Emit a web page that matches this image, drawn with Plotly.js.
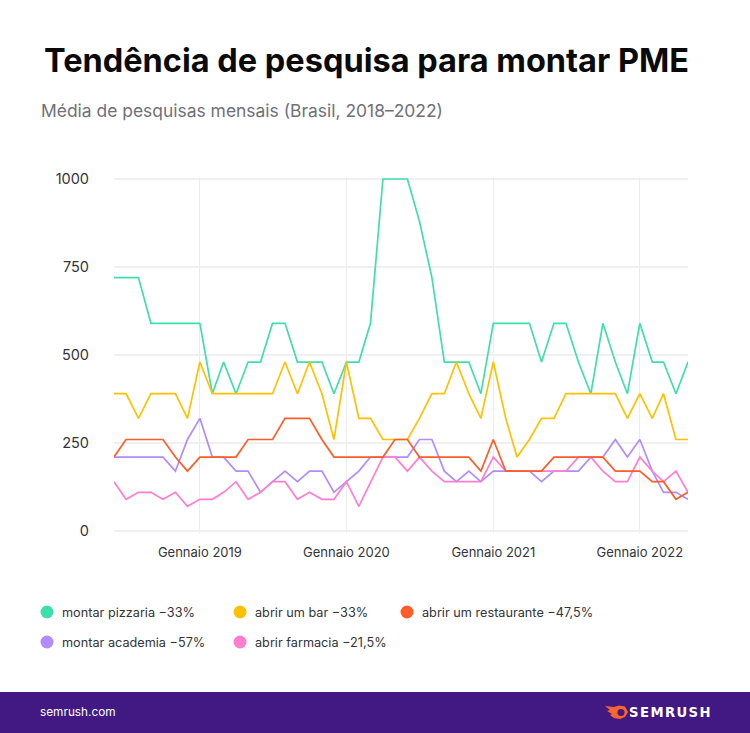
<!DOCTYPE html>
<html><head><meta charset="utf-8">
<script src="https://cdn.plot.ly/plotly-3.0.1.min.js"></script>
<style>html,body{margin:0;padding:0;background:#fff;overflow:hidden}#c{width:750px;height:733px}
.annotation[data-index="3"] text{letter-spacing:1.4px}</style>
</head><body><div id="c"></div>
<script>
const months=["2018-06-01","2018-07-01","2018-08-01","2018-09-01","2018-10-01","2018-11-01","2018-12-01",
"2019-01-01","2019-02-01","2019-03-01","2019-04-01","2019-05-01","2019-06-01","2019-07-01","2019-08-01","2019-09-01","2019-10-01","2019-11-01","2019-12-01",
"2020-01-01","2020-02-01","2020-03-01","2020-04-01","2020-05-01","2020-06-01","2020-07-01","2020-08-01","2020-09-01","2020-10-01","2020-11-01","2020-12-01",
"2021-01-01","2021-02-01","2021-03-01","2021-04-01","2021-05-01","2021-06-01","2021-07-01","2021-08-01","2021-09-01","2021-10-01","2021-11-01","2021-12-01",
"2022-01-01","2022-02-01","2022-03-01","2022-04-01","2022-05-01"];
const pizzaria=[720,720,720,590,590,590,590,590,390,480,390,480,480,590,590,480,480,480,390,480,480,590,1000,1000,1000,880,720,480,480,480,390,590,590,590,590,480,590,590,480,390,590,480,390,590,480,480,390,480];
const bar=[390,390,320,390,390,390,320,480,390,390,390,390,390,390,480,390,480,390,260,480,320,320,260,260,260,320,390,390,480,390,320,480,320,210,260,320,320,390,390,390,390,390,320,390,320,390,260,260];
const restaurante=[210,260,260,260,260,210,170,210,210,210,210,260,260,260,320,320,320,260,210,210,210,210,210,260,260,210,210,210,210,210,170,260,170,170,170,170,210,210,210,210,210,170,170,170,140,140,90,110];
const academia=[210,210,210,210,210,170,260,320,210,210,170,170,110,140,170,140,170,170,110,140,170,210,210,210,210,260,260,170,140,170,140,170,170,170,170,140,170,170,170,210,210,260,210,260,170,110,110,90];
const farmacia=[140,90,110,110,90,110,70,90,90,110,140,90,110,140,140,90,110,90,90,140,70,140,210,210,170,210,170,140,140,140,140,210,170,170,170,170,170,170,210,210,170,140,140,210,170,140,170,110];
const yTicks=[0,250,500,750,1000];
const xTicks=["2019-01-01","2020-01-01","2021-01-01","2022-01-01"];
const xTickLabels=["Gennaio 2019","Gennaio 2020","Gennaio 2021","Gennaio 2022"];
const titleText="Tendência de pesquisa para montar PME";
const subtitleText="Média de pesquisas mensais (Brasil, 2018–2022)";
const legendItems=[
 {name:"montar pizzaria −33%",color:"#3fdfa9",cx:47,cy:612},
 {name:"abrir um bar −33%",color:"#ffc000",cx:240,cy:612},
 {name:"abrir um restaurante −47,5%",color:"#ff5c28",cx:407,cy:612},
 {name:"montar academia −57%",color:"#b18cff",cx:47,cy:642},
 {name:"abrir farmacia −21,5%",color:"#ff7ed0",cx:240,cy:642}];
const FONT="Inter, sans-serif";
const PL=114,PR=688,PT=177,PB=533;
const X=p=>(p-PL)/(PR-PL), Y=p=>(PB-p)/(PB-PT);
function line(name,y,color){return {type:"scatter",mode:"lines",name:name,x:months,y:y,
  line:{color:color,width:1.7,shape:"linear"},cliponaxis:false,hoverinfo:"x+y"};}
const traces=[line("montar pizzaria",pizzaria,"#3fdfa9"),line("abrir um bar",bar,"#ffc000"),
 line("montar academia",academia,"#b18cff"),line("abrir farmacia",farmacia,"#ff7ed0"),
 line("abrir um restaurante",restaurante,"#ff5c28")];
function txt(text,px,py,size,color,family){return {text:text,xref:"paper",yref:"paper",x:X(px),y:Y(py),
  xanchor:"left",yanchor:"middle",showarrow:false,font:{family:family||FONT,size:size,color:color}};}
const annotations=[
 txt("<b>"+titleText+"</b>",42,60.5,32.5,"#0a0a0a"),
 txt(subtitleText,39,110,17.45,"#6f7079"),
 txt("semrush.com",38,712,11.8,"#ffffff"),
 txt("<b>SEMRUSH</b>",632,712,13.2,"#ffffff","DejaVu Sans")
];
const shapes=[{type:"rect",xref:"paper",yref:"paper",x0:X(0),x1:X(750),y0:Y(692),y1:Y(733),fillcolor:"#421983",line:{width:0},layer:"below"}];
for(const it of legendItems){
 shapes.push({type:"circle",xref:"paper",yref:"paper",x0:X(it.cx-6.5),x1:X(it.cx+6.5),y0:Y(it.cy+6.5),y1:Y(it.cy-6.5),fillcolor:it.color,line:{width:0}});
 annotations.push(txt(it.name,it.cx+13,it.cy,12.7,"#33343a"));
}
function P(pts){return pts.map((p,i)=>(i?"L":"M")+X(p[0]).toFixed(4)+","+Y(p[1]).toFixed(4)).join(" ")+" Z";}
shapes.push({type:"path",xref:"paper",yref:"paper",path:P([[605,706],[614,707],[619,705.5],[625,706.5],[628,712],[625,717],[620,719],[614,718],[610,715],[612,714],[607,711],[610,710]]),fillcolor:"#ff642d",line:{width:0}});
shapes.push({type:"circle",xref:"paper",yref:"paper",x0:X(617.5),x1:X(624.5),y0:Y(716),y1:Y(709),fillcolor:"#421983",line:{width:0}});
const layout={width:750,height:733,paper_bgcolor:"#fff",plot_bgcolor:"#fff",showlegend:false,
 margin:{l:PL,r:750-PR,t:PT,b:733-PB,pad:0},font:{family:FONT,color:"#33343a"},
 xaxis:{type:"date",range:["2018-06-01","2022-05-01"],tickvals:xTicks,ticktext:xTickLabels,tickmode:"array",showgrid:true,gridcolor:"#ececec",gridwidth:1.2,
  zeroline:false,showline:false,ticks:"",ticklabelstandoff:10,tickfont:{family:FONT,size:13,color:"#33343a"}},
 yaxis:{range:[-5.68,1005.68],tickvals:yTicks,ticktext:yTicks.map(String),tickmode:"array",showgrid:true,gridcolor:"#f0f0f0",gridwidth:1.5,
  zeroline:false,showline:false,ticks:"",ticklen:0,ticklabelstandoff:24,tickfont:{family:FONT,size:14.5,color:"#33343a"}},
 shapes:shapes,annotations:annotations};
Plotly.newPlot("c",traces,layout,{displayModeBar:false,responsive:false});
</script></body></html>
